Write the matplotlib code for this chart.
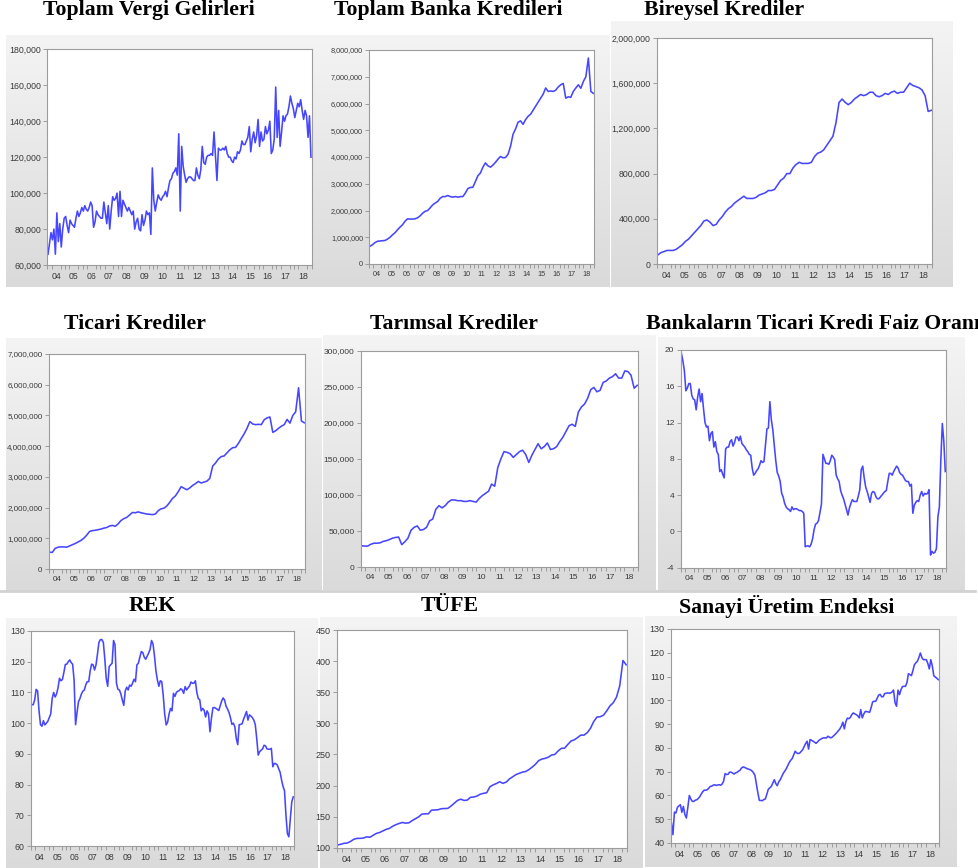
import numpy as np
import matplotlib
matplotlib.use('Agg')
import matplotlib.pyplot as plt
from matplotlib.ticker import FuncFormatter
from matplotlib.lines import Line2D

# ---------------- data (monthly 2004M01-2018M12; some series read every 2 months) ----------------
year_labels = ['04', '05', '06', '07', '08', '09', '10', '11', '12', '13', '14', '15', '16', '17', '18']

# Toplam Vergi Gelirleri (thousand)
vergi_k = [66, 72, 78, 74, 80, 66, 89, 73, 83, 70, 80, 86,
           87, 82, 78, 85, 83, 82, 81, 86, 90, 87, 89, 92,
           90, 93, 91, 90, 92, 95, 93, 81, 84, 90, 88, 87,
           86, 86, 95, 89, 83, 93, 80, 90, 98, 96, 97, 100,
           87, 101, 87, 96, 94, 92, 90, 92, 90, 88, 90, 80,
           84, 86, 80, 79, 88, 82, 85, 90, 88, 89, 77, 114,
           96, 90, 95, 99, 97, 96, 98, 99, 101, 98, 103, 107,
           108, 111, 112, 114, 110, 133, 90, 126, 115, 110, 106, 108,
           109, 109, 108, 107, 107, 114, 110, 108, 113, 126, 117, 116,
           120, 121, 121, 122, 121, 134, 120, 107, 125, 124, 124, 125,
           124, 126, 122, 120, 120, 118, 117, 120, 119, 123, 122, 124,
           129, 127, 127, 129, 131, 137, 123, 130, 134, 128, 132, 141,
           126, 134, 129, 130, 137, 133, 135, 140, 122, 124, 130, 159,
           131, 146, 126, 134, 143, 140, 143, 144, 148, 154, 150, 147,
           142, 146, 150, 148, 152, 146, 141, 146, 143, 131, 143, 120]

# Toplam Banka Kredileri (million)
banka_m = [0.66, 0.72, 0.80, 0.85, 0.86, 0.87, 0.88, 0.93, 1.00, 1.09,
           1.17, 1.28, 1.38, 1.47, 1.60, 1.69, 1.68, 1.68, 1.69, 1.73,
           1.80, 1.90, 1.97, 2.00, 2.10, 2.21, 2.28, 2.34, 2.46, 2.52,
           2.52, 2.56, 2.52, 2.50, 2.52, 2.50, 2.52, 2.52, 2.65, 2.82,
           2.86, 2.87, 3.08, 3.30, 3.40, 3.62, 3.78, 3.67, 3.62, 3.70,
           3.80, 3.92, 4.02, 3.97, 3.98, 4.10, 4.40, 4.85, 5.05, 5.30,
           5.35, 5.22, 5.40, 5.52, 5.60, 5.75, 5.90, 6.05, 6.20, 6.35,
           6.58, 6.45, 6.47, 6.45, 6.50, 6.62, 6.70, 6.75, 6.20, 6.25,
           6.23, 6.45, 6.58, 6.70, 6.57, 6.82, 7.00, 7.70, 6.45, 6.38]

# Bireysel Krediler (million)
bireysel_m = [0.08, 0.10, 0.11, 0.12, 0.12, 0.12, 0.13, 0.15, 0.17, 0.20,
              0.22, 0.25, 0.28, 0.31, 0.34, 0.38, 0.39, 0.37, 0.34, 0.35,
              0.39, 0.42, 0.46, 0.49, 0.51, 0.54, 0.56, 0.58, 0.60, 0.58,
              0.58, 0.58, 0.59, 0.61, 0.62, 0.63, 0.65, 0.65, 0.66, 0.70,
              0.74, 0.76, 0.80, 0.80, 0.85, 0.88, 0.90, 0.89, 0.89, 0.89,
              0.90, 0.95, 0.98, 0.99, 1.01, 1.05, 1.09, 1.13, 1.25, 1.43,
              1.46, 1.43, 1.41, 1.43, 1.46, 1.48, 1.50, 1.49, 1.50, 1.52,
              1.52, 1.49, 1.48, 1.49, 1.51, 1.50, 1.52, 1.53, 1.51, 1.52,
              1.52, 1.56, 1.60, 1.58, 1.57, 1.56, 1.54, 1.49, 1.35, 1.36]

# Ticari Krediler (million)
ticari_m = [0.55, 0.54, 0.67, 0.71, 0.72, 0.72, 0.71, 0.75, 0.79, 0.83,
            0.88, 0.93, 1.00, 1.10, 1.22, 1.25, 1.26, 1.28, 1.30, 1.33,
            1.35, 1.40, 1.42, 1.39, 1.47, 1.58, 1.64, 1.68, 1.76, 1.84,
            1.83, 1.86, 1.83, 1.81, 1.79, 1.78, 1.77, 1.79, 1.90, 1.96,
            1.98, 2.05, 2.17, 2.30, 2.38, 2.52, 2.68, 2.63, 2.58, 2.64,
            2.72, 2.78, 2.85, 2.80, 2.83, 2.86, 2.95, 3.35, 3.45, 3.58,
            3.66, 3.68, 3.78, 3.88, 3.95, 3.96, 4.09, 4.25, 4.40, 4.58,
            4.80, 4.72, 4.70, 4.71, 4.70, 4.86, 4.92, 4.95, 4.45, 4.50,
            4.58, 4.65, 4.70, 4.87, 4.75, 5.00, 5.12, 5.90, 4.82, 4.76]

# Tarımsal Krediler (thousand)
tarim_k = [29.5, 29, 29, 31.5, 33, 33, 33.5, 35.5, 36.5, 38,
           40, 41, 41.5, 31, 35, 40, 51, 55, 57, 51,
           52, 55, 64, 66.5, 80, 85, 82, 85, 90, 93,
           93, 92, 92, 91, 91, 92, 91, 90, 95, 99,
           102, 105, 115, 112, 138, 150, 160, 159, 157, 152,
           156, 160, 162, 156, 145, 155, 163, 171, 164, 167,
           172, 163, 164, 167, 174, 180, 188, 196, 198, 195,
           215, 222, 226, 234, 246, 249, 243, 245, 256, 258,
           262, 264, 268, 262, 262, 272, 271, 266, 248, 252]

# Bankaların Ticari Kredi Faiz Oranı
faiz = [19.6, 18.8, 17.7, 15.5, 15.8, 16.3, 16.3, 15.0, 14.6, 14.5, 13.4, 14.8,
        15.7, 14.3, 15.2, 13.5, 12.0, 11.5, 11.6, 10.0, 10.8, 11.0, 9.3, 9.9,
        8.8, 8.5, 6.6, 6.8, 6.3, 5.9, 9.1, 9.3, 9.3, 9.9, 10.1, 9.4,
        9.8, 10.4, 10.4, 10.0, 10.5, 9.7, 9.5, 9.3, 9.0, 8.8, 8.5, 8.4,
        7.0, 6.2, 6.4, 6.7, 6.9, 7.3, 7.8, 7.6, 7.7, 9.5, 11.3, 11.4,
        14.3, 12.3, 11.2, 9.5, 7.8, 6.5, 6.1, 5.5, 4.2, 3.8, 3.1, 2.7,
        2.5, 2.4, 2.2, 2.7, 2.4, 2.5, 2.5, 2.4, 2.3, 2.3, 2.2, 2.0,
        -1.7, -1.6, -1.6, -1.7, -1.4, -0.8, 0.2, 0.8, 0.9, 1.2, 2.1, 3.0,
        8.5, 8.0, 7.5, 7.5, 7.4, 7.8, 8.4, 8.2, 7.9, 6.2, 5.8, 5.5,
        4.5, 4.0, 3.6, 3.0, 2.4, 1.8, 2.6, 3.1, 3.5, 3.3, 3.3, 3.3,
        3.9, 4.6, 6.8, 7.2, 5.9, 4.9, 4.4, 3.8, 3.2, 4.2, 4.4, 4.3,
        3.8, 3.6, 3.6, 3.8, 4.0, 4.2, 4.4, 4.5, 5.5, 6.4, 6.4, 6.2,
        6.6, 6.9, 7.2, 7.0, 6.5, 6.3, 6.2, 5.9, 5.6, 5.5, 5.5, 5.0,
        5.2, 2.0, 2.9, 3.2, 3.4, 3.3, 4.0, 4.4, 3.9, 4.2, 4.1, 4.2,
        4.6, -2.6, -2.2, -2.4, -2.3, -1.9, 1.6, 2.7, 7.9, 11.9, 10.0, 6.6]

# REK
rek = [106, 106, 107.5, 111, 110.5, 104, 99.5, 99, 100.8, 99.4, 100, 100.6,
       101.8, 103, 108, 110, 108.5, 109.5, 111.5, 114.6, 113.8, 114.2, 116.5, 119.1,
       119.2, 120, 120.6, 119.7, 119.2, 114, 99.5, 103.5, 107, 108, 109.5, 110.4,
       110.8, 112.5, 113.5, 113.5, 117, 119.2, 119, 117.3, 119, 122.5, 126.3, 127.2,
       127.2, 126.3, 121, 114.5, 112, 118.4, 119, 119.5, 126.9, 125.5, 113, 111,
       110.8, 109.5, 107.5, 105.8, 110.5, 111.7, 110.8, 112.4, 112, 113, 114.3, 113.5,
       119, 119.5, 121.5, 123.3, 123, 121.5, 120.8, 121.8, 122.8, 124, 126.9, 125.8,
       122, 117, 114.1, 112, 113.8, 113.5, 109, 103, 99.4, 100.3, 103, 104.8,
       104, 109.7, 108.7, 110, 110.4, 110.6, 111.2, 110.8, 109.7, 111.9, 110.8, 111.5,
       112.1, 113.4, 113, 113, 113.8, 110, 108, 107.6, 104, 104.8, 104.2, 102,
       104, 103, 97.2, 101.6, 105, 105.1, 104.8, 104.5, 104.1, 105.7, 107.2, 108.2,
       107.5, 105.5, 104.6, 103.5, 101.8, 99.6, 100, 98.8, 95, 93, 99.5, 99.6,
       99.8, 101.3, 102.5, 103.8, 101, 102.7, 102.3, 101.8, 101, 99.5, 95, 89.6,
       90.7, 91.2, 91.6, 92.8, 92.6, 91.6, 91.5, 91.5, 91.8, 85.8, 86.9, 86.8,
       86.4, 85.2, 84, 81.5, 79.4, 78, 70, 64, 63, 69, 74.5, 76]

# TÜFE
tufe = [104.3, 105.5, 107, 107.5, 110, 113.5, 115, 115, 115.5, 117.5,
        116.8, 120, 123, 124.5, 127, 129.5, 131, 134.5, 137, 139,
        140.5, 139.5, 140, 143.5, 146.5, 149.5, 154, 154.5, 154.5, 160.5,
        160.6, 161, 162.7, 163, 163.2, 167, 171.5, 176, 178, 176,
        176.5, 181, 181.5, 183, 186, 187.4, 188.4, 198, 201, 203.2,
        206, 203.5, 205.5, 210.5, 214, 217.5, 219.5, 221.5, 222.5, 225.5,
        229.5, 234, 240, 242.5, 243.6, 245.5, 249, 250, 255.5, 259.7,
        260, 266, 271.5, 273.5, 277, 281, 281, 285, 292, 303,
        310, 310.6, 313, 320, 328, 333, 342, 360, 401, 394]

# Sanayi Üretim Endeksi
sanayi = [48.4, 43.5, 53, 52.6, 55, 55.6, 56.1, 52.9, 55.4, 52, 50.5, 55,
          60, 58.5, 57.5, 57.5, 58, 58.2, 58.7, 59.5, 60.6, 61.6, 62.2, 62.2,
          62.4, 63, 63.8, 63.9, 64.3, 64.5, 64.2, 64.4, 64.5, 64.3, 64.8, 66,
          69.2, 68.8, 68.9, 69.8, 69.8, 69.4, 69, 69.5, 69.7, 70.2, 70.6, 71.5,
          72, 71.8, 71.5, 71.2, 71, 70.8, 70.3, 69.6, 68.5, 64.8, 61, 57.9,
          57.9, 57.8, 58.3, 58.5, 60.5, 62.6, 63.2, 63.8, 65.2, 66.6, 65, 64.1,
          65.8, 66.6, 68, 69.3, 70.2, 71.2, 72.5, 73.8, 74.8, 75.5, 77, 78.6,
          77.9, 77.6, 77.8, 78.5, 79.2, 80.5, 81.8, 82.8, 79.5, 83.5, 83.2, 82.8,
          82.4, 81.9, 82.5, 83.2, 83.6, 84, 84.2, 84.2, 84.2, 84.9, 84.5, 84.2,
          84.6, 85.2, 85.8, 86.5, 87.2, 88, 89.1, 90.8, 88, 91, 92.5, 92.3,
          92.8, 94, 94.7, 94.3, 94, 93.5, 92.6, 96.1, 92.6, 94.2, 95.3, 95.3,
          95.1, 95, 97, 99.4, 99.6, 99.6, 100.8, 102.2, 102.5, 101.5, 101.5, 102.8,
          103, 103.1, 103, 103.1, 103.5, 104.3, 99, 97.5, 104.3, 102.4, 104.5, 105.8,
          105.9, 105.9, 107.5, 111.2, 110.8, 110.4, 112.5, 115, 115.8, 116.4, 118, 119.9,
          118, 117.1, 117.1, 117.1, 115.5, 113.2, 117.1, 114.5, 110.4, 109.8, 109.3, 108.7]

# ---------------- figure ----------------
W, H = 979, 868
fig = plt.figure(figsize=(W / 100, H / 100), dpi=100)
fig.patch.set_facecolor('white')

LINE = '#4646ff'
SPINE = '#9c9c9c'
TXT = '#3a3a3a'


def rect(l, t, r, b):
    return [l / W, 1 - b / H, (r - l) / W, (b - t) / H]


def background(l, t, r, b):
    ax = fig.add_axes(rect(l, t, r, b), zorder=0)
    g = np.linspace(0, 1, 200)[:, None, None]
    top = np.array([0.957, 0.957, 0.957])
    bot = np.array([0.855, 0.855, 0.855])
    img = top + (bot - top) * g
    ax.imshow(np.repeat(img, 2, axis=1), aspect='auto', extent=[0, 1, 0, 1])
    ax.set_axis_off()


comma = FuncFormatter(lambda v, p: '{:,.0f}'.format(v))


def panel(values, scale, ylim, yticks, prect, fs):
    ax = fig.add_axes(rect(*prect), zorder=2)
    y = np.asarray(values, dtype=float) * scale
    x = np.linspace(0, 179, len(y))
    ax.plot(x, y, color=LINE, lw=1.15, solid_joinstyle='round')
    ax.set_xlim(0, 179)
    ax.set_ylim(*ylim)
    ax.set_yticks(yticks)
    ax.yaxis.set_major_formatter(comma)
    ax.set_xticks([12 * k + 5.5 for k in range(15)])
    ax.set_xticklabels(year_labels)
    ax.set_xticks(np.arange(-0.5, 180, 3), minor=True)
    ax.tick_params(axis='x', which='major', length=0, pad=5, labelsize=fs, labelcolor=TXT)
    ax.tick_params(axis='x', which='minor', length=3, width=0.7, color=SPINE)
    ax.tick_params(axis='y', which='major', length=3, width=0.7, color=SPINE, pad=1.5,
                   labelsize=fs, labelcolor=TXT)
    for lab in ax.get_xticklabels() + ax.get_yticklabels():
        lab.set_fontfamily('Liberation Sans')
    for s in ax.spines.values():
        s.set_color(SPINE)
        s.set_linewidth(0.8)
    ax.set_facecolor('white')
    return ax


def title(text, x, y, ha='center'):
    fig.text(x / W, 1 - y / H, text, ha=ha, va='center', fontsize=15.7,
             fontweight='bold', family='Liberation Serif', color='black')


# backgrounds
background(6, 35, 332, 287)
background(332, 35, 610, 287)
background(611, 21, 953, 287)
background(6, 338, 322, 592)
background(323, 335, 656, 590)
background(658, 337, 965, 592)
background(6, 618, 318, 868)
background(320, 617, 643, 868)
background(645, 616, 957, 867)

fig.add_artist(Line2D([0, 975 / W], [1 - 591 / H, 1 - 591 / H], color='#d2d2d2', lw=2, zorder=1))

# panels
panel(vergi_k, 1000, (60000, 180000), np.arange(60000, 180001, 20000), (47.3, 49.3, 311.7, 265), 6.3)
panel(banka_m, 1e6, (0, 8e6), np.arange(0, 8e6 + 1, 1e6), (369.3, 50, 594, 264), 5.2)
panel(bireysel_m, 1e6, (0, 2e6), np.arange(0, 2e6 + 1, 4e5), (657, 38, 932, 264), 6.3)
panel(ticari_m, 1e6, (0, 7e6), np.arange(0, 7e6 + 1, 1e6), (48.7, 354, 305, 569), 5.8)
panel(tarim_k, 1000, (0, 300000), np.arange(0, 300001, 50000), (360.7, 350.7, 638, 567), 6.0)
panel(faiz, 1, (-4, 20), np.arange(-4, 21, 4), (680.7, 350, 946, 567.7), 6.0)
panel(rek, 1, (60, 130), np.arange(60, 131, 10), (31, 631, 294, 846), 6.3)
panel(tufe, 1, (100, 450), np.arange(100, 451, 50), (336.7, 630, 627, 847.7), 6.5)
panel(sanayi, 1, (40, 130), np.arange(40, 131, 10), (670.7, 629, 939, 843), 6.5)

# titles
title('Toplam Vergi Gelirleri', 149, 10)
title('Toplam Banka Kredileri', 448, 10)
title('Bireysel Krediler', 724, 10)
title('Ticari Krediler', 135, 324)
title('Tarımsal Krediler', 454, 324)
title('Bankaların Ticari Kredi Faiz Oranı', 646, 324, ha='left')
title('REK', 152, 606)
title('TÜFE', 450, 606)
title('Sanayi Üretim Endeksi', 787, 606)

fig.savefig('out.png', dpi=100, facecolor='white')
